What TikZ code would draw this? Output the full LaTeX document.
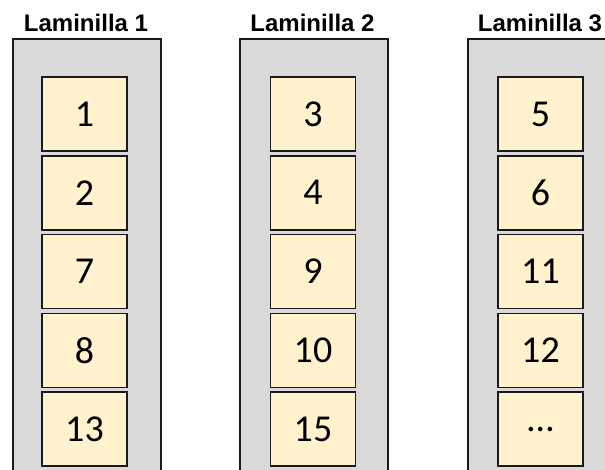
\documentclass[tikz,border=0pt]{standalone}
\usepackage{fontspec}
\setmainfont{Liberation Sans}
\newfontfamily\numfont{Carlito}
\definecolor{slidegray}{HTML}{D9D9D9}
\definecolor{cellfill}{HTML}{FFF2CC}
\definecolor{edge}{HTML}{1A1A1A}
\begin{document}
\begin{tikzpicture}[x=1pt,y=-1pt,
  slide/.style={draw=edge, line width=1.6pt, fill=slidegray, minimum width=148pt,
    minimum height=470pt, anchor=north west, inner sep=0pt},
  cell/.style={draw=edge, line width=1.6pt, fill=cellfill, minimum width=85pt,
    minimum height=74pt, inner sep=0pt, font=\numfont\fontsize{38}{38}\selectfont},
  slidetitle/.style={font=\bfseries\fontsize{24}{24}\selectfont, anchor=base, inner sep=0pt}]
\useasboundingbox (0,0) rectangle (605,470);
\fill[white] (0,0) rectangle (605,470);
\begin{scope}
\clip (0,0) rectangle (605,470);
% three slides
\node[slide] (s1) at (12,38) {};
\node[slide] (s2) at (239,38) {};
\node[slide] (s3) at (467,38) {};
% slide titles
\node[slidetitle] (t1) at (86,32) {Laminilla 1};
\node[slidetitle] (t2) at (312.5,32) {Laminilla 2};
\node[slidetitle] (t3) at (540,32) {Laminilla 3};
% sections placed on each slide
\foreach \lbl [count=\i] in {1,2,7,8,13}
  \node[cell] (a\i) at (84.5,{114+78.8*(\i-1)}) {\lbl};
\foreach \lbl [count=\i] in {3,4,9,10,15}
  \node[cell] (b\i) at (313,{114+78.8*(\i-1)}) {\lbl};
\foreach \lbl [count=\i] in {5,6,11,12,…}
  \node[cell] (c\i) at (540.5,{114+78.8*(\i-1)}) {\lbl};
\end{scope}
\end{tikzpicture}
\end{document}
